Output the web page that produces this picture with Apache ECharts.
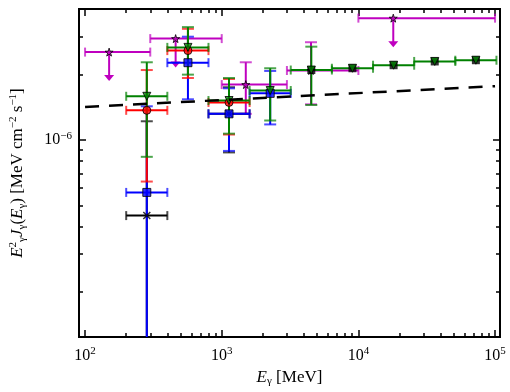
<!DOCTYPE html>
<html>
<head>
<meta charset="utf-8">
<script src="https://cdn.jsdelivr.net/npm/echarts@6/dist/echarts.min.js"></script>
<style>
  html, body { margin: 0; padding: 0; background: #fff; }
  #chart { width: 510px; height: 392px; }
</style>
</head>
<body>
<div id="chart"></div>
<script>
// energy bins (MeV)
const binLo = [200, 400, 800, 1600, 3200, 6400, 12800, 25600, 51200];
const binHi = [400, 800, 1600, 3200, 6400, 12800, 25600, 51200, 102400];
const binMid = [283, 566, 1131, 2263, 4525, 9051, 18102, 36204, 72408];

// green triangles
const greenF = [1.59e-6, 2.67e-6, 1.52e-6, 1.69e-6, 2.10e-6, 2.14e-6, 2.21e-6, 2.30e-6, 2.33e-6];
const greenLo = [8.37e-7, 2.00e-6, 1.07e-6, 1.23e-6, 1.45e-6, null, null, null, null];
const greenHi = [2.28e-6, 3.31e-6, 1.93e-6, 2.14e-6, 2.69e-6, null, null, null, null];

// red circles
const redF = [1.37e-6, 2.58e-6, 1.49e-6];
const redLo = [6.44e-7, 1.93e-6, 1.06e-6];
const redHi = [2.10e-6, 3.25e-6, 1.91e-6];

// blue squares
const blueF = [5.74e-7, 2.27e-6, 1.32e-6, 1.64e-6];
const blueLo = [1e-9, 1.54e-6, 8.91e-7, 1.18e-6];
const blueHi = [1.43e-6, 2.99e-6, 1.73e-6, 2.08e-6];

// black crosses
const blackF = [4.49e-7, null, 1.32e-6];
const blackLo = [1e-9, null, 8.77e-7];
const blackHi = [1.22e-6, null, 1.75e-6];

// black squares behind the high energy green points
const blackSqF = [null, null, null, null, 2.10e-6, 2.14e-6, 2.21e-6, 2.30e-6, 2.33e-6];

// magenta stars (upper limits where ul is true)
const magE = [150, 460, 1500, 4500, 18000];
const magELo = [100, 300, 1000, 3000, 10000];
const magEHi = [300, 1000, 3000, 10000, 100000];
const magF = [2.54e-6, 2.93e-6, 1.80e-6, 2.09e-6, 3.64e-6];
const magLo = [null, null, 1.32e-6, 1.46e-6, null];
const magHi = [null, null, 2.28e-6, 2.82e-6, null];
const magUL = [true, true, false, false, true];

// dashed model line
const modelE = [100, 100000];
const modelF = [1.42e-6, 1.77e-6];

// ticks
const xMajor = [100, 1000, 10000, 100000];
const xMinor = [200, 300, 400, 500, 600, 700, 800, 900,
  2000, 3000, 4000, 5000, 6000, 7000, 8000, 9000,
  20000, 30000, 40000, 50000, 60000, 70000, 80000, 90000];
const yMajor = [1e-6];
const yMinor = [2e-7, 3e-7, 4e-7, 5e-7, 6e-7, 7e-7, 8e-7, 9e-7, 2e-6, 3e-6, 4e-6];

const FONT = 'Liberation Serif';
const chart = echarts.init(document.getElementById('chart'));

function rows(F, Lo, Hi) {
  const out = [];
  F.forEach((f, i) => {
    if (f == null) return;
    out.push([binMid[i], f, binLo[i], binHi[i], Lo[i] == null ? NaN : Lo[i], Hi[i] == null ? NaN : Hi[i]]);
  });
  return out;
}
function pts(F) {
  const out = [];
  F.forEach((f, i) => { if (f != null) out.push([binMid[i], f]); });
  return out;
}

function errRender(color, arrows) {
  return function (params, api) {
    const x = api.value(0), y = api.value(1);
    const xl = api.value(2), xh = api.value(3), yl = api.value(4), yh = api.value(5);
    const c = api.coord([x, y]);
    const ls = { stroke: color, lineWidth: 2 };
    const cs = { stroke: color, lineWidth: 2, opacity: 0.7 };
    const ch = [];
    const a = api.coord([xl, y]), b = api.coord([xh, y]);
    ch.push({ type: 'line', shape: { x1: a[0], y1: c[1], x2: b[0], y2: c[1] }, style: ls });
    ch.push({ type: 'line', shape: { x1: a[0], y1: c[1] - 4.5, x2: a[0], y2: c[1] + 4.5 }, style: cs });
    ch.push({ type: 'line', shape: { x1: b[0], y1: c[1] - 4.5, x2: b[0], y2: c[1] + 4.5 }, style: cs });
    if (isFinite(yl) && isFinite(yh)) {
      const lo = api.coord([x, yl]), hi = api.coord([x, yh]);
      ch.push({ type: 'line', shape: { x1: c[0], y1: lo[1], x2: c[0], y2: hi[1] }, style: ls });
      ch.push({ type: 'line', shape: { x1: c[0] - 6, y1: lo[1], x2: c[0] + 6, y2: lo[1] }, style: cs });
      ch.push({ type: 'line', shape: { x1: c[0] - 6, y1: hi[1], x2: c[0] + 6, y2: hi[1] }, style: cs });
    } else if (arrows && api.value(6) === 1) {
      ch.push({ type: 'line', shape: { x1: c[0], y1: c[1], x2: c[0], y2: c[1] + 24 }, style: ls });
      ch.push({ type: 'polygon', shape: { points: [[c[0] - 5, c[1] + 23], [c[0] + 5, c[1] + 23], [c[0], c[1] + 29]] }, style: { fill: color } });
    }
    return { type: 'group', children: ch };
  };
}

const magRows = magE.map((e, i) => [e, magF[i], magELo[i], magEHi[i],
  magLo[i] == null ? NaN : magLo[i], magHi[i] == null ? NaN : magHi[i], magUL[i] ? 1 : 0]);

const STAR = 'path://M50,0L61,35L98,35L68,57L79,91L50,70L21,91L32,57L2,35L39,35Z';
const CROSS = 'path://M0,0L10,10M10,0L0,10';

function logAxis(pos, vals, len, withLabels, extra) {
  const isX = pos === 'bottom' || pos === 'top';
  const ax = Object.assign({
    type: 'log', logBase: 10, position: pos,
    min: isX ? 90.3 : 1.24e-7, max: isX ? 108700 : 4.01e-6,
    axisLine: { show: true, onZero: false, lineStyle: { color: '#000', width: 2 } },
    axisTick: { show: true, inside: true, length: len, customValues: vals, lineStyle: { color: '#000', width: 1.5 } },
    minorTick: { show: false },
    splitLine: { show: false },
    axisLabel: { show: false }
  }, extra || {});
  if (withLabels) {
    ax.axisLabel = {
      show: true, customValues: vals, margin: isX ? 9 : 7,
      formatter: v => '{b|10}{s|' + String(Math.round(Math.log10(v))).replace('-', '\u2212') + '}',
      rich: {
        b: { fontFamily: FONT, fontSize: 16, color: '#000' },
        s: { fontFamily: FONT, fontSize: 11, color: '#000', verticalAlign: 'top', padding: [0, 0, 8, 0] }
      }
    };
  }
  return ax;
}

const nameRich = {
  i: { fontFamily: FONT, fontSize: 17, fontStyle: 'italic', color: '#000' },
  t: { fontFamily: FONT, fontSize: 17, color: '#000' },
  s: { fontFamily: FONT, fontSize: 11, color: '#000', verticalAlign: 'top', padding: [0, 0, 9, 0] },
  sub: { fontFamily: FONT, fontSize: 11, color: '#000', verticalAlign: 'bottom', padding: [7, 0, 0, 0] }
};

const option = {
  animation: false,
  backgroundColor: '#fff',
  grid: { left: 77, right: 10, top: 9, bottom: 51 },
  xAxis: [
    logAxis('bottom', xMajor, 7, true, {
      name: '{i|E}{sub|\u03b3}{t| [MeV]}', nameLocation: 'middle', nameGap: 32,
      nameTextStyle: { rich: nameRich, fontFamily: FONT, fontSize: 17, color: '#000' }
    }),
    logAxis('bottom', xMinor, 4, false),
    logAxis('top', xMajor, 7, false),
    logAxis('top', xMinor, 4, false)
  ],
  yAxis: [
    logAxis('left', yMajor, 7, true, {
      name: '{i|E}{s|2}{sub|\u03b3}{i|J}{sub|\u03b3}{t|(}{i|E}{sub|\u03b3}{t|) [MeV cm}{s|\u22122}{t| s}{s|\u22121}{t|]}',
      nameLocation: 'middle', nameGap: 51,
      nameTextStyle: { rich: nameRich, fontFamily: FONT, fontSize: 17, color: '#000' }
    }),
    logAxis('left', yMinor, 4, false),
    logAxis('right', yMajor, 7, false),
    logAxis('right', yMinor, 4, false)
  ],
  series: [
    { type: 'custom', name: 'mag-err', renderItem: errRender('#bf00bf', true), data: magRows, clip: true, z: 1,
      encode: { x: [0, 2, 3], y: [1] } },
    { type: 'custom', name: 'black-err', renderItem: errRender('#000000'), data: rows(blackF, blackLo, blackHi), clip: true, z: 2,
      encode: { x: [0, 2, 3], y: [1] } },
    { type: 'custom', name: 'blue-err', renderItem: errRender('#0000ff'), data: rows(blueF, blueLo, blueHi), clip: true, z: 3,
      encode: { x: [0, 2, 3], y: [1] } },
    { type: 'custom', name: 'red-err', renderItem: errRender('#ff0000'), data: rows(redF, redLo, redHi), clip: true, z: 4,
      encode: { x: [0, 2, 3], y: [1] } },
    { type: 'custom', name: 'green-err', renderItem: errRender('#008000'), data: rows(greenF, greenLo, greenHi), clip: true, z: 5,
      encode: { x: [0, 2, 3], y: [1] } },
    { type: 'scatter', name: 'mag', data: magE.map((e, i) => [e, magF[i]]), symbol: STAR, symbolSize: 8, z: 6,
      itemStyle: { color: '#bf00bf', borderColor: '#000', borderWidth: 1 } },
    { type: 'scatter', name: 'black', data: pts(blackF), symbol: CROSS, symbolSize: 7, z: 6,
      itemStyle: { color: 'none', borderColor: '#000', borderWidth: 1.5 } },
    { type: 'scatter', name: 'blackSq', data: pts(blackSqF), symbol: 'rect', symbolSize: 8, z: 6,
      itemStyle: { color: '#000' } },
    { type: 'scatter', name: 'blue', data: pts(blueF), symbol: 'rect', symbolSize: 8, z: 7,
      itemStyle: { color: '#0000ff', borderColor: '#000', borderWidth: 1 } },
    { type: 'scatter', name: 'red', data: pts(redF), symbol: 'circle', symbolSize: 8, z: 8,
      itemStyle: { color: '#ff0000', borderColor: '#000', borderWidth: 1 } },
    { type: 'scatter', name: 'green', data: pts(greenF), symbol: 'triangle', symbolRotate: 180, symbolSize: 8, z: 9,
      itemStyle: { color: '#008000', borderColor: '#000', borderWidth: 1 } },
    { type: 'line', name: 'model', data: modelE.map((e, i) => [e, modelF[i]]), showSymbol: false, symbol: 'none', z: 10,
      lineStyle: { color: '#000', width: 2.5, type: [14, 10] } }
  ]
};
chart.setOption(option);
</script>
</body>
</html>
